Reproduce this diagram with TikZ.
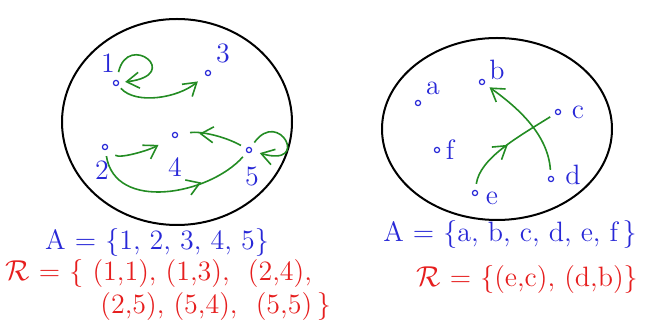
\documentclass[tikz,border=0pt]{standalone}
\usepackage{amsmath}
\usepackage{amssymb}
\usepackage{xcolor}
\usetikzlibrary{positioning,arrows.meta,decorations.markings}
\definecolor{inkblue}{RGB}{40,40,215}
\definecolor{inkgreen}{RGB}{35,140,35}
\definecolor{inkred}{RGB}{230,30,30}
\tikzset{
  % --- elements of the set ---------------------------------------------------
  elem/.style={circle,draw=inkblue,line width=0.6pt,inner sep=0pt,
               minimum size=2.6pt},
  elab/.style={text=inkblue,font=\fontsize{14}{16}\selectfont,inner sep=1pt},
  % --- pairs of the relation -------------------------------------------------
  rel/.style={inkgreen,line width=0.8pt},
  relend/.style={rel,-{Straight Barb[length=2.2mm,width=2.8mm]}},
  relmid/.style={rel,postaction={decorate},
                 decoration={markings,mark=at position #1 with
                   {\arrow{Straight Barb[length=2.2mm,width=2.8mm]}}}},
  relmid/.default=0.55,
  % --- the set as a blob, and the written formulas ---------------------------
  blob/.style={draw=black,line width=1pt},
  setA/.style={text=inkblue,font=\fontsize{14}{16}\selectfont,inner sep=0pt},
  setR/.style={text=inkred,font=\fontsize{14}{16}\selectfont,inner sep=0pt},
}

\begin{document}
\begin{tikzpicture}[x=0.5pt,y=-0.5pt]
  \useasboundingbox (0,0) rectangle (648,330);

  % first set
  \draw[blob] (177,122) ellipse [x radius=57.5pt, y radius=51.5pt];

  \node[elem] (n1) at (116,83)  {};
  \node[elem] (n2) at (105,147) {};
  \node[elem] (n3) at (208,73)  {};
  \node[elem] (n4) at (175,135) {};
  \node[elem] (n5) at (249,150) {};

  \node[elab] (l1) at ([shift={(-8,-20)}]n1) {1};
  \node[elab] (l2) at ([shift={(-3,23)}]n2)  {2};
  \node[elab] (l3) at ([shift={(15,-20)}]n3) {3};
  \node[elab] (l4) at ([shift={(0,32)}]n4)   {4};
  \node[elab] (l5) at ([shift={(3,27)}]n5)   {5};

  \draw[relend,shorten <=4pt,shorten >=3pt]
       (n1) .. controls +(12,-52) and +(68,-8) .. (n1);
  \draw[relend,shorten <=2pt,shorten >=5pt]
       (n1) .. controls +(20,22) and +(-30,25) .. (n3);
  \draw[relend,shorten <=5pt,shorten >=8pt]
       (n2) .. controls +(15,12) and +(-25,15) .. (n4);
  \draw[relmid=0.68,shorten <=3pt,shorten >=3pt]
       (n2) .. controls +(10,65) and +(-40,45) .. (n5);
  \draw[relmid=0.7,shorten <=3pt,shorten >=6pt]
       (n5) .. controls +(-25,-14) and +(25,-4) .. (n4);
  \draw[relend,shorten <=3pt,shorten >=4pt]
       (n5) .. controls +(30,-42) and +(62,18) .. (n5);

  \node[setA] (sa1) at (157,243) {A = \{1, 2, 3, 4, 5\}};
  \node[setR,anchor=west] (sr1) at (5,274)
       {$\mathcal{R}$ = \{\ (1,1), (1,3),\ \ (2,4),};
  \node[setR,anchor=west] (sr2) at (100,307)
       {(2,5), (5,4),\ \ (5,5)\,\}};

  % second set
  \draw[blob] (497,129) ellipse [x radius=57.5pt, y radius=45.5pt];

  \node[elem] (na) at (418,103) {};
  \node[elem] (nb) at (482,82)  {};
  \node[elem] (nc) at (558,112) {};
  \node[elem] (nd) at (551,179) {};
  \node[elem] (ne) at (475,193) {};
  \node[elem] (nf) at (437,150) {};

  \node[elab] (la) at ([shift={(15,-15)}]na) {a};
  \node[elab] (lb) at ([shift={(15,-12)}]nb) {b};
  \node[elab] (lc) at ([shift={(20,0)}]nc)   {c};
  \node[elab] (ld) at ([shift={(22,-4)}]nd)  {d};
  \node[elab] (le) at ([shift={(17,5)}]ne)   {e};
  \node[elab] (lf) at ([shift={(13,0)}]nf)   {f};

  \draw[relmid=0.5,shorten <=3pt,shorten >=3pt]
       (ne) .. controls +(5,-35) and +(-40,25) .. (nc);
  \draw[relend,shorten <=3pt,shorten >=3pt]
       (nd) .. controls +(-3,-45) and +(35,25) .. (nb);

  \node[setA] (sa2) at (510,235) {A = \{a, b, c, d, e, f\,\}};
  \node[setR] (sr3) at (527,280) {$\mathcal{R}$ = \{(e,c),\ (d,b)\}};
\end{tikzpicture}
\end{document}
